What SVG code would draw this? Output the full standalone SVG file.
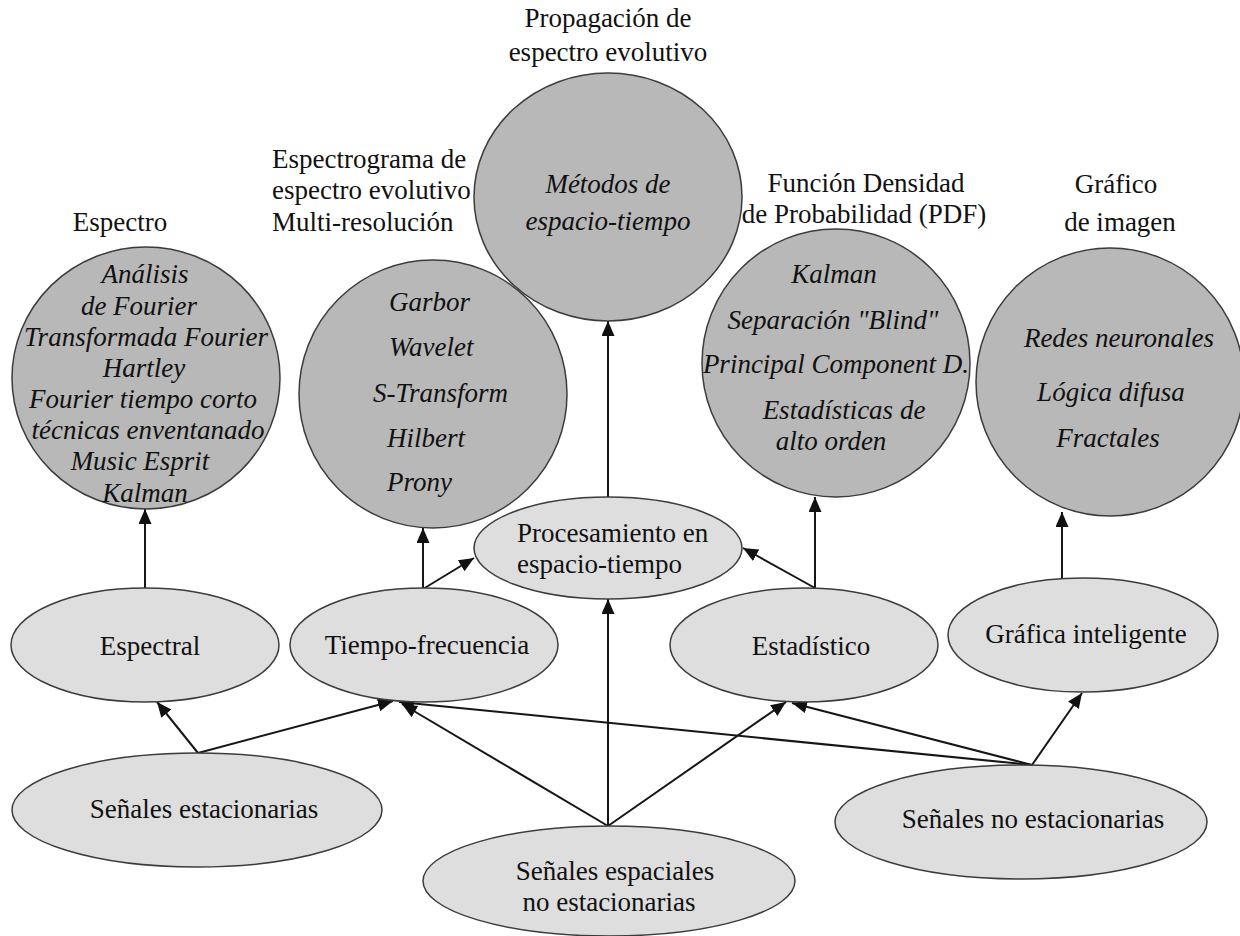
<svg xmlns="http://www.w3.org/2000/svg" width="1240" height="936" viewBox="0 0 1240 936">
  <style>
    text { font-family: "Liberation Serif", "Times New Roman", serif; font-size: 27px; fill: #111; }
    .it { font-style: italic; }
    .mid { text-anchor: middle; }
    .method { fill: #b8b8b8; stroke: #3c3c3c; stroke-width: 1.5; }
    .kind { fill: #dedede; stroke: #3c3c3c; stroke-width: 1.5; }
    .edge { fill: none; stroke: #161616; stroke-width: 2; marker-end: url(#arrow); }
  </style>
  <defs>
    <marker id="arrow" markerUnits="userSpaceOnUse" markerWidth="16" markerHeight="14" refX="15" refY="6.5" orient="auto">
      <path d="M0,0 L15,6.5 L0,13 z" fill="#111"/>
    </marker>
  </defs>

  <rect width="1240" height="936" fill="#fff"/>

  <!-- captions above the method circles -->
  <g id="captions">
    <text class="mid" x="608" y="27">Propagación de</text>
    <text class="mid" x="608" y="61">espectro evolutivo</text>
    <text x="272" y="168">Espectrograma de</text>
    <text x="272" y="199">espectro evolutivo</text>
    <text x="272" y="231">Multi-resolución</text>
    <text class="mid" x="120" y="231">Espectro</text>
    <text class="mid" x="866" y="192">Función Densidad</text>
    <text class="mid" x="864" y="223">de Probabilidad (PDF)</text>
    <text class="mid" x="1116" y="193">Gráfico</text>
    <text class="mid" x="1120" y="231">de imagen</text>
  </g>

  <!-- connectors -->
  <g id="connectors">
    <line class="edge" x1="145" y1="588" x2="145" y2="509"/>
    <line class="edge" x1="423" y1="589" x2="423" y2="528"/>
    <line class="edge" x1="423" y1="589" x2="474" y2="558"/>
    <line class="edge" x1="608" y1="497" x2="608" y2="321"/>
    <line class="edge" x1="815" y1="588" x2="815" y2="497"/>
    <line class="edge" x1="815" y1="588" x2="743" y2="548"/>
    <line class="edge" x1="1062" y1="578" x2="1062" y2="512"/>
    <line class="edge" x1="198" y1="753" x2="157" y2="702"/>
    <line class="edge" x1="198" y1="753" x2="393" y2="701"/>
    <line class="edge" x1="608" y1="826" x2="402" y2="704"/>
    <line class="edge" x1="608" y1="826" x2="608" y2="599"/>
    <line class="edge" x1="608" y1="826" x2="786" y2="702"/>
    <line class="edge" x1="1032" y1="765" x2="1082" y2="693"/>
    <line class="edge" x1="1032" y1="765" x2="792" y2="703"/>
    <line class="edge" x1="1032" y1="765" x2="399" y2="702"/>
  </g>

  <g id="n-espectro">
    <ellipse class="method" cx="146" cy="378" rx="134" ry="131"/>
    <text class="it mid" x="145" y="283">Análisis</text>
    <text class="it mid" x="139" y="315">de Fourier</text>
    <text class="it mid" x="146" y="346">Transformada Fourier</text>
    <text class="it mid" x="144" y="377">Hartley</text>
    <text class="it mid" x="143" y="408">Fourier tiempo corto</text>
    <text class="it mid" x="148" y="439">técnicas enventanado</text>
    <text class="it mid" x="140" y="470">Music Esprit</text>
    <text class="it mid" x="145" y="502">Kalman</text>
  </g>

  <g id="n-tf-methods">
    <circle class="method" cx="433" cy="394" r="134"/>
    <text class="it" x="389" y="311">Garbor</text>
    <text class="it" x="389" y="356">Wavelet</text>
    <text class="it" x="373" y="402">S-Transform</text>
    <text class="it" x="387" y="447">Hilbert</text>
    <text class="it" x="387" y="491">Prony</text>
  </g>

  <g id="n-espacio-tiempo">
    <ellipse class="method" cx="608" cy="197" rx="134" ry="124"/>
    <text class="it mid" x="608" y="193">Métodos de</text>
    <text class="it mid" x="608" y="230">espacio-tiempo</text>
  </g>

  <g id="n-estadistico-methods">
    <circle class="method" cx="836" cy="363" r="134"/>
    <text class="it mid" x="834" y="283">Kalman</text>
    <text class="it mid" x="833" y="329">Separación "Blind"</text>
    <text class="it mid" x="836" y="373">Principal Component D.</text>
    <text class="it mid" x="844" y="419">Estadísticas de</text>
    <text class="it mid" x="831" y="450">alto orden</text>
  </g>

  <g id="n-imagen">
    <circle class="method" cx="1110" cy="382" r="134"/>
    <text class="it mid" x="1119" y="347">Redes neuronales</text>
    <text class="it mid" x="1111" y="401">Lógica difusa</text>
    <text class="it mid" x="1108" y="447">Fractales</text>
  </g>

  <g id="n-espectral">
    <ellipse class="kind" cx="145" cy="645" rx="134" ry="57"/>
    <text class="mid" x="150" y="655">Espectral</text>
  </g>

  <g id="n-tiempo-frecuencia">
    <ellipse class="kind" cx="424" cy="645" rx="134" ry="57"/>
    <text class="mid" x="427" y="654">Tiempo-frecuencia</text>
  </g>

  <g id="n-procesamiento">
    <ellipse class="kind" cx="608" cy="548" rx="134" ry="51"/>
    <text x="517" y="542">Procesamiento en</text>
    <text x="517" y="573">espacio-tiempo</text>
  </g>

  <g id="n-estadistico">
    <ellipse class="kind" cx="804" cy="645" rx="134" ry="57"/>
    <text class="mid" x="811" y="655">Estadístico</text>
  </g>

  <g id="n-grafica">
    <ellipse class="kind" cx="1083" cy="635" rx="135" ry="57"/>
    <text class="mid" x="1086" y="643">Gráfica inteligente</text>
  </g>

  <g id="n-estacionarias">
    <ellipse class="kind" cx="197" cy="810" rx="185" ry="57"/>
    <text class="mid" x="204" y="818">Señales estacionarias</text>
  </g>

  <g id="n-espaciales">
    <ellipse class="kind" cx="609" cy="881" rx="186" ry="55"/>
    <text class="mid" x="615" y="880">Señales espaciales</text>
    <text class="mid" x="609" y="911">no estacionarias</text>
  </g>

  <g id="n-no-estacionarias">
    <ellipse class="kind" cx="1021" cy="822" rx="186" ry="57"/>
    <text class="mid" x="1033" y="828">Señales no estacionarias</text>
  </g>
</svg>
